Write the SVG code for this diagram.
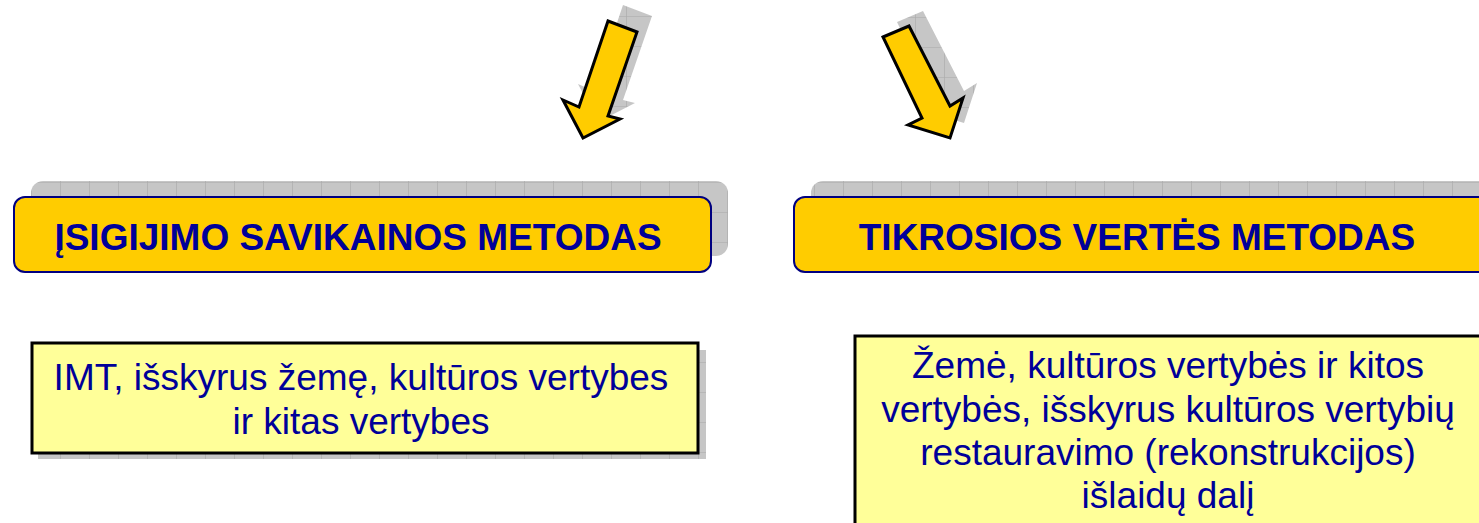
<svg xmlns="http://www.w3.org/2000/svg" width="1479" height="523" viewBox="0 0 1479 523">
  <defs>
    <pattern id="grid" patternUnits="userSpaceOnUse" x="2" y="2" width="29" height="30">
      <rect width="29" height="30" fill="#c6c6c6"/>
      <path d="M0 0V30M0 0H29" stroke="#a9a9a9" stroke-width="1.2" fill="none"/>
    </pattern>
    <style>
      .shadow { fill: url(#grid); }
      .arrow { fill: #FFCC00; stroke: #000000; stroke-width: 3; stroke-linejoin: miter; }
      .head { fill: #FFCC00; stroke: #000080; stroke-width: 2; }
      .headtxt { font-family: "Liberation Sans", Arial, sans-serif; font-weight: bold; font-size: 37px; fill: #000099; text-anchor: middle; }
      .note { fill: #FFFF99; stroke: #000000; stroke-width: 3; }
      .notetxt { font-family: "Liberation Sans", Arial, sans-serif; font-size: 37px; fill: #000099; text-anchor: middle; }
    </style>
  </defs>
  <rect width="1479" height="523" fill="#ffffff"/>

  <g id="connectors">
    <g id="arrow-left">
      <polygon class="shadow" transform="translate(15,-16)" points="608,21 637,32 608,116 620,119 583,138 563,100 579,107"/>
      <polygon class="arrow" points="608,21 637,32 608,116 620,119 583,138 563,100 579,107"/>
    </g>
    <g id="arrow-right">
      <polygon class="shadow" transform="translate(14,-15)" points="883,37 909,26 950,106 963,98 950,138 908,125 922,118"/>
      <polygon class="arrow" points="883,37 909,26 950,106 963,98 950,138 908,125 922,118"/>
    </g>
  </g>

  <g id="node-isigijimo">
    <rect class="shadow" x="31" y="181" width="697" height="75" rx="12"/>
    <rect class="head" x="14" y="197" width="697" height="75" rx="11"/>
    <text class="headtxt" x="358" y="250">ĮSIGIJIMO SAVIKAINOS METODAS</text>
  </g>

  <g id="node-tikrosios">
    <rect class="shadow" x="811" y="181" width="720" height="75" rx="12"/>
    <rect class="head" x="794" y="197" width="720" height="75" rx="11"/>
    <text class="headtxt" x="1137" y="250">TIKROSIOS VERTĖS METODAS</text>
  </g>

  <g id="node-imt">
    <rect class="shadow" x="38" y="350" width="668" height="109"/>
    <rect class="note" x="32" y="343" width="666" height="110"/>
    <text class="notetxt" x="361" y="390">IMT, išskyrus žemę, kultūros vertybes</text>
    <text class="notetxt" x="361" y="434">ir kitas vertybes</text>
  </g>

  <g id="node-zeme">
    <rect class="note" x="855" y="336" width="700" height="250"/>
    <text class="notetxt" x="1168" y="378">Žemė, kultūros vertybės ir kitos</text>
    <text class="notetxt" x="1168" y="422">vertybės, išskyrus kultūros vertybių</text>
    <text class="notetxt" x="1168" y="465">restauravimo (rekonstrukcijos)</text>
    <text class="notetxt" x="1168" y="508">išlaidų dalį</text>
  </g>
</svg>
